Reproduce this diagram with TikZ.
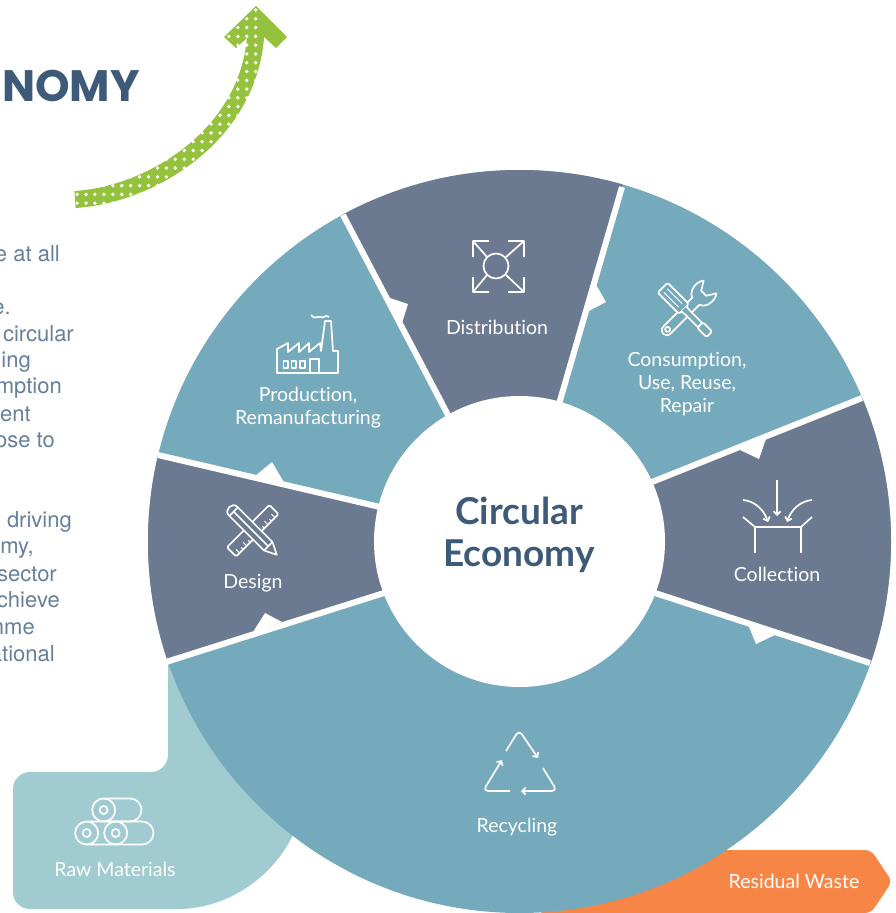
\documentclass[tikz,border=0pt]{standalone}
\usepackage{fontspec}
\setmainfont{Lato}[Ligatures=NoCommon]
\newfontfamily\sidefont{TeX Gyre Heros}
\newfontfamily\headfont{Poppins}
\usetikzlibrary{arrows.meta}
\definecolor{tealfill}{HTML}{75A9BC}
\definecolor{slatefill}{HTML}{6B7A90}
\definecolor{rawfill}{HTML}{A0CBD0}
\definecolor{wastefill}{HTML}{F78546}
\definecolor{greenfill}{HTML}{94C23D}
\definecolor{navytext}{HTML}{3D5A78}
\definecolor{sidetext}{HTML}{66809B}
\tikzset{
  iconline/.style={white,line width=1.7pt,line join=round},
  barb/.style={-{Straight Barb[length=3.5pt,width=7pt]}},
  seplabel/.style={white,align=center,font=\fontsize{19.5}{23}\selectfont},
  sideline/.style={anchor=base east,text=sidetext,inner sep=0pt,font=\sidefont\fontsize{22}{26}\selectfont},
  sepline/.style={white,line width=6pt},
  notch/.style={white},
}
\begin{document}
\begin{tikzpicture}[x=1pt,y=-1pt]
    \tikzset{
      pics/spread/.style args={#1}{code={
        \draw[iconline] (0,0) circle[radius=#1pt];
        \draw[iconline] (-23,-9) -- (-23,-25) -- (-7,-25) (-23,-25) -- (-9,-9);
        \draw[iconline] (28,-9) -- (28,-25) -- (12,-25) (28,-25) -- (10,-9);
        \draw[iconline] (-23,11) -- (-23,26) -- (-7,26) (-23,26) -- (-9,9);
        \draw[iconline] (28,11) -- (28,26) -- (12,26) (28,26) -- (10,9);
      },
    }
    }
    \tikzset{
      pics/factory/.style={code={
        \draw[iconline] (277,349) -- (277,373) -- (338,373) -- (338,351) -- (333,351) -- (331,321) -- (325,321) -- (321,351)
          -- (320,343) -- (309,352) -- (309,343) -- (299,352) -- (299,343) -- (288,352) -- (288,343) -- cycle;
        \draw[iconline] (310,373) -- (310,359) -- (319,359) -- (319,373);
        \draw[iconline,line width=1.2pt] (283.5,361) rectangle (288,368) (291.5,361) rectangle (296,368) (300,361) rectangle (305,368);
        \draw[iconline] (311,315) .. controls (315,320) and (316,316) .. (320,317) .. controls (323,319) and (326,314) .. (329,317);
      },
    }
    }
    \tikzset{
      pics/tools/.style={code={
        \draw[iconline,rotate=45] (14,-5) -- (-27,-5) .. controls (-34,-5) and (-34,5) .. (-27,5) -- (14,5)
          .. controls (16,12) and (28,14) .. (34,9) -- (25,3.5) -- (25,-3.5) -- (34,-9) .. controls (28,-14) and (16,-12) .. (14,-5);
        \draw[iconline,rotate=45] (-26,0) circle[radius=2.5pt];
        \draw[iconline,fill=tealfill,rotate=-45,rounded corners=1.5pt] (-33,-7) rectangle (-3,7);
        \draw[iconline,fill=tealfill,rotate=-45] (-3,-3.5) -- (3,-3) -- (20,-3) -- (20,3) -- (3,3) -- (-3,3.5);
        \draw[iconline,fill=tealfill,rotate=-45,rounded corners=2pt] (20,-4) rectangle (33,4);
        \draw[iconline,line width=1pt,rotate=-45] (-29,-2.5) -- (-8,-2.5) (-29,2.5) -- (-8,2.5);
      },
    }
    }
    \tikzset{
      pics/inbox/.style={code={
        \draw[iconline] (743,517) -- (755,527) -- (801,527) -- (812,517);
        \draw[iconline] (755,527) -- (755,553) (801,527) -- (801,553);
        \draw[iconline,barb] (777,480) -- (777,516);
        \draw[iconline,barb] (743,500) .. controls (755,501) and (764,510) .. (768,522);
        \draw[iconline,barb] (812,500) .. controls (800,501) and (791,510) .. (787,522);
      },
    }
    }
    \tikzset{
      pics/recycle/.style={code={
        \draw[iconline,barb,rounded corners=5pt] (506,751) -- (519,730) -- (538,758);
        \draw[iconline,barb,rounded corners=5pt] (510,791) -- (483,791) -- (502,760);
        \draw[iconline,barb,rounded corners=5pt] (543,768) -- (557,791) -- (521,791);
      },
    }
    }
    \tikzset{
      pics/rolls/.style={code={
        \draw[iconline] (103.7,810) circle[radius=11.5pt] (103.7,810) circle[radius=4pt];
        \draw[iconline] (103.7,798.5) -- (130,798.5) arc[start angle=90,end angle=-90,radius=11.5pt] -- (103.7,821.5);
        \draw[iconline] (86.7,833) circle[radius=11.5pt] (86.7,833) circle[radius=4pt];
        \draw[iconline] (115.7,833) circle[radius=11.5pt] (115.7,833) circle[radius=4pt];
        \draw[iconline] (86.7,821.5) -- (142,821.5) arc[start angle=90,end angle=-90,radius=11.5pt] -- (86.7,844.5);
      },
    }
    }
    \tikzset{
      pics/drafting/.style={code={
        \draw[iconline,rotate=45,rounded corners=1.5pt] (-30,-6.5) rectangle (30,6.5);
        \foreach \t/\l in {-25/5,-20/3,-15/5,-10/3,10/3,15/5,20/3,25/5}
          \draw[iconline,line width=1pt,rotate=45] (\t,6.5) -- (\t,6.5-\l);
        \draw[iconline,fill=slatefill,rotate=-45] (22,-6) -- (-28,-6) .. controls (-35,-6) and (-35,6) .. (-28,6) -- (22,6) -- (34,0) -- cycle;
        \draw[iconline,rotate=-45] (-27,-6) -- (-27,6) (-27,0) -- (22,0) (22,-6) -- (22,6);
      },
    }
    }
    \useasboundingbox (0,0) rectangle (896,913);

    %DOTTED ARROW
    \draw[greenfill,line width=17pt] (75,199.5) .. controls (150,195) and (252,135) .. (256,30);
    \fill[greenfill] (256,6) -- (287,37) -- (276,48) -- (264,37) -- (248,37) -- (236,48) -- (224,37) -- cycle;
    \foreach \i in {0,...,20}
      \foreach \j in {0,...,22}
        \fill[white] ({255.7-8.93*\i},{10+8.78*\j}) circle[radius=1.9pt];

    %TITLE AND SIDE TEXT
    \node[anchor=base west,inner sep=0pt,text=navytext,font=\headfont\bfseries\fontsize{44}{44}\selectfont] (title) at (2,101) {NOMY};
    \node[sideline] (sideA) at (60,261) {e at all};
    \node[sideline] (sideB) at (11,314) {e.};
    \node[sideline] (sideC) at (74,341) {circular};
    \node[sideline] (sideD) at (31,367) {ing};
    \node[sideline] (sideE) at (62,393) {mption};
    \node[sideline] (sideF) at (31,421) {ent};
    \node[sideline] (sideG) at (55,447) {ose to};
    \node[sideline] (sideH) at (72,527) {driving};
    \node[sideline] (sideI) at (34,553) {my,};
    \node[sideline] (sideJ) at (57,581) {sector};
    \node[sideline] (sideK) at (60,607) {chieve};
    \node[sideline] (sideL) at (35,634) {mme};
    \node[sideline] (sideM) at (55,661) {ational};

    %TABS UNDER THE WHEEL
    \fill[rawfill,rounded corners=17pt] (168,650) -- (168,772) -- (13,772) -- (13,909) -- (60,909) [sharp corners] -- (177,909)
      .. controls (225,909) and (270,880) .. (292,837) -- (400,700) -- cycle;
    \fill[wastefill,rounded corners=6pt] (600,850) -- (871,850) -- (892,881.5) -- (871,913) -- (700,913) [sharp corners] -- (540,914) -- cycle;

    %WHEEL
    \coordinate (ctr) at (519.5,541.5);
    \coordinate (sepAin) at (448,415);   \coordinate (sepAout) at (343,215);
    \coordinate (sepBin) at (559,404);   \coordinate (sepBout) at (622,187);
    \coordinate (sepCin) at (652,482);   \coordinate (sepCout) at (862,398);
    \coordinate (sepDin) at (655,593);   \coordinate (sepDout) at (870,663);
    \coordinate (sepEin) at (384,593);   \coordinate (sepEout) at (166,662);
    \coordinate (sepFin) at (380,507);   \coordinate (sepFout) at (158,455);
    \fill[tealfill] (ctr) circle[radius=371.5pt];
    \begin{scope}
      \clip (ctr) circle[radius=371.5pt];
      \fill[slatefill] (sepAin) -- (sepAout) -- (330,100) -- (650,100) -- (sepBout) -- (sepBin) -- cycle;
      \fill[slatefill] (sepCin) -- (sepCout) -- (930,370) -- (930,680) -- (sepDout) -- (sepDin) -- cycle;
      \fill[slatefill] (sepFin) -- (sepFout) -- (110,440) -- (110,680) -- (sepEout) -- (sepEin) -- cycle;
    \end{scope}
    \draw[sepline] (sepAin) -- (sepAout);
    \draw[sepline] (sepBin) -- (sepBout);
    \draw[sepline] (sepCin) -- (sepCout);
    \draw[sepline] (sepDin) -- (sepDout);
    \draw[sepline] (sepEin) -- (sepEout);
    \draw[sepline] (sepFin) -- (sepFout);
    \fill[notch] (387,297) -- (408,304) -- (402,323) -- cycle;
    \fill[notch] (595,283) -- (606,302) -- (587,312) -- cycle;
    \fill[notch] (738,449) -- (759,459) -- (767,436) -- cycle;
    \fill[notch] (747,622) -- (756,644) -- (777,634) -- cycle;
    \fill[notch] (265,613) -- (253,632) -- (282,622) -- cycle;
    \fill[notch] (255,476) -- (272,462) -- (285,484) -- cycle;
    \fill[white] (ctr) circle[radius=145.5pt];

    %ICONS
    \draw (496,266) pic {spread={12.5}};
    \draw (0,0) pic {factory};
    \draw (686,311) pic {tools};
    \draw (0,0) pic {inbox};
    \draw (0,0) pic {recycle};
    \draw (0,0) pic {rolls};
    \draw (252.7,530.7) pic {drafting};

    %LABELS
    \node[navytext,align=center,font=\bfseries\fontsize{37}{42}\selectfont] (hub) at (519,535) {Circular\\Economy};
    \node[seplabel] (distribution) at (497,327) {Distribution};
    \node[seplabel] (production) at (308,408) {Production,\\Remanufacturing};
    \node[seplabel] (consumption) at (687,384) {Consumption,\\Use, Reuse,\\Repair};
    \node[seplabel] (collection) at (777,574) {Collection};
    \node[seplabel] (recycling) at (517,827) {Recycling};
    \node[seplabel] (design) at (253,583) {Design};
    \node[seplabel] (raw) at (115,869) {Raw Materials};
    \node[seplabel] (waste) at (794,881) {Residual Waste};
    \end{tikzpicture}
\end{document}
